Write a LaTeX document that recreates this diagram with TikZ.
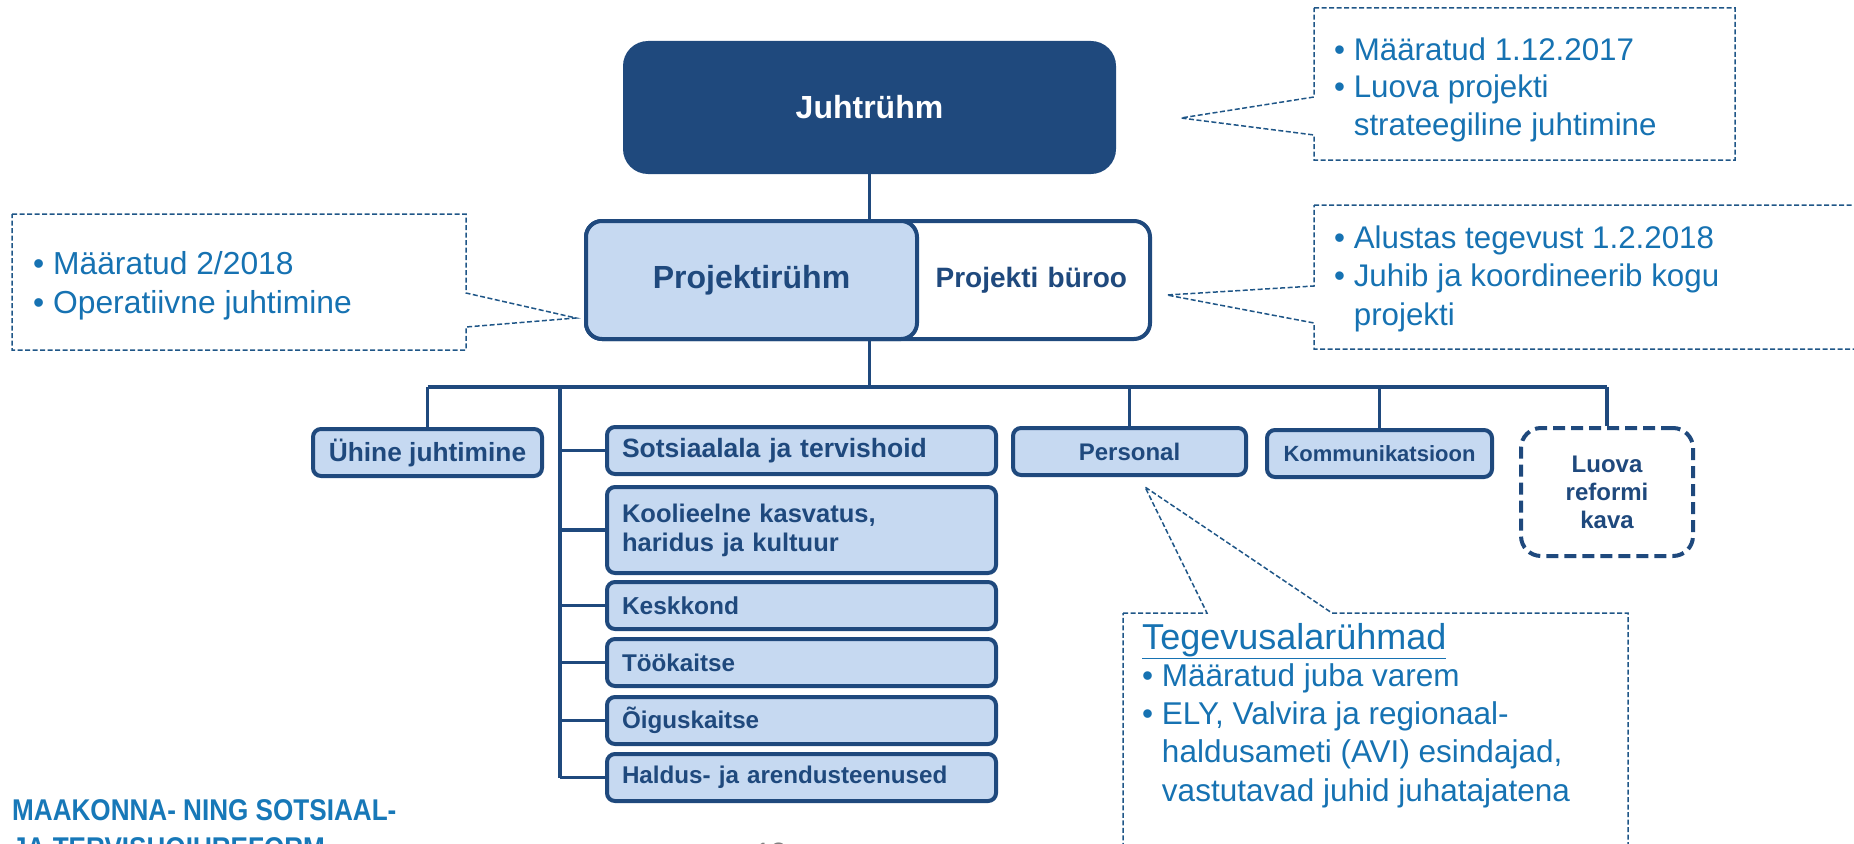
\documentclass[tikz,border=0pt]{standalone}
\usepackage{fontspec}
\setmainfont{Liberation Sans}
\newfontfamily\headfont[FakeStretch=0.87]{Liberation Sans}
\definecolor{navy}{RGB}{31,73,125}
\definecolor{paleblue}{RGB}{198,217,241}
\definecolor{notetext}{RGB}{22,114,178}
\definecolor{noteline}{RGB}{31,86,135}
\definecolor{headblue}{RGB}{23,120,184}
\newcommand{\boxfont}[1]{\fontsize{#1}{29}\selectfont\bfseries}
\tikzset{
  unit/.style={draw=navy, line width=4pt, fill=paleblue, rounded corners=8pt,
    text=navy, font=\boxfont{25}, inner sep=0pt, anchor=north west},
  branch/.style={unit, minimum width=389pt, minimum height=47pt,
    text width=359pt, align=left},
  note/.style={text=notetext, font=\fontsize{31}{38}\selectfont,
    anchor=base west, align=left, inner sep=0pt},
  noteframe/.style={draw=noteline, line width=1.5pt, dash pattern=on 5pt off 2.5pt},
  link/.style={draw=navy, line width=3.5pt},
}
\begin{document}
\begin{tikzpicture}[x=1pt,y=-1pt]
  \useasboundingbox (0,0) rectangle (1854,843);
  \clip (0,0) rectangle (1854,843);
  % leadership
  \node[fill=navy, rounded corners=25pt, minimum width=493pt, minimum height=133pt,
    text=white, font=\boxfont{32}] (juht) at (869.5,107.5) {Juhtrühm};
  \node[unit, fill=white, rounded corners=16pt, minimum width=564pt, minimum height=118pt,
    text width=518pt, align=right, font=\boxfont{28}] (buro) at (584,219) {Projekti büroo};
  \node[unit, rounded corners=16pt, minimum width=331pt, minimum height=118pt,
    font=\boxfont{32}] (projr) at (584,219) {Projektirühm};
  % working groups
  \node[unit, minimum width=229pt, minimum height=47pt, font=\boxfont{26.3}] (yhine) at (311,427) {Ühine juhtimine};
  \node[branch, font=\boxfont{26.5}] (sots) at (605,425) {Sotsiaalala ja tervishoid};
  \node[branch, minimum height=86pt, font=\boxfont{25.5}] (kool) at (605,485) {Koolieelne kasvatus,\\haridus ja kultuur};
  \node[branch, font=\boxfont{24.5}] (kesk) at (605,580) {Keskkond};
  \node[branch, font=\boxfont{24.2}] (tyo) at (605,637) {Töökaitse};
  \node[branch, font=\boxfont{24.2}] (oigus) at (605,695) {Õiguskaitse};
  \node[branch, font=\boxfont{24.2}] (haldus) at (605,752) {Haldus- ja arendusteenused};
  \node[unit, minimum width=233pt, minimum height=47pt, font=\boxfont{24}] (pers) at (1011,426) {Personal};
  \node[unit, minimum width=225pt, minimum height=47pt, font=\boxfont{22}] (komm) at (1265,428) {Kommunikatsioon};
  \node[unit, fill=white, dash pattern=on 12pt off 6pt, rounded corners=20pt,
    minimum width=172pt, minimum height=128pt, align=center,
    font=\fontsize{24}{28}\selectfont\bfseries] (luova) at (1519,426) {Luova\\reformi\\kava};
  % connectors
  \coordinate (busL) at (yhine.north |- 0,387);
  \coordinate (busR) at (luova.north |- 0,387);
  \coordinate (trunk) at (560,387);
  \begin{scope}[link]
    \draw (juht.south) -- (juht.south |- buro.north);
    \draw (juht.south |- buro.south) -- (juht.south |- busL);
    \draw (busL) -- (busR);
    \draw (yhine.north) -- (busL);
    \draw (trunk) -- (trunk |- haldus.west);
    \foreach \b in {sots,kool,kesk,tyo,oigus,haldus}
      \draw (trunk |- \b.west) -- (\b.west);
    \draw (pers.north) -- (pers.north |- busL);
    \draw (komm.north) -- (komm.north |- busL);
    \draw (luova.north) -- (busR);
  \end{scope}
  % notes
  \coordinate (juhttip) at (1181,118);
  \coordinate (burotip) at (1167,295);
  \coordinate (projtip) at (576,318);
  \coordinate (perstip) at (1145,487);
  \draw[noteframe] (1314,8) -- (1735,8) -- (1735,160) -- (1314,160) -- (1314,135)
    -- (juhttip) -- (1314,97) -- cycle;
  \draw[noteframe] (1314,205) -- (1870,205) -- (1870,349) -- (1314,349) -- (1314,323)
    -- (burotip) -- (1314,286) -- cycle;
  \draw[noteframe] (12,214) -- (466,214) -- (466,293) -- (projtip) -- (466,327)
    -- (466,350) -- (12,350) -- cycle;
  \draw[noteframe] (1123,613) -- (1207,613) -- (perstip) -- (1332,613) -- (1628,613)
    -- (1628,870) -- (1123,870) -- cycle;
  % multi-line notes sit on their last baseline
  \node[note, font=\fontsize{31.3}{37.5}\selectfont] (juhtnote) at (1334,135) {• Määratud 1.12.2017\\• Luova projekti\\\hphantom{• }strateegiline juhtimine};
  \node[note, font=\fontsize{31.3}{38.5}\selectfont] (buronote) at (1334,325) {• Alustas tegevust 1.2.2018\\• Juhib ja koordineerib kogu\\\hphantom{• }projekti};
  \node[note, font=\fontsize{31.8}{39}\selectfont] (projnote) at (33,313) {• Määratud 2/2018\\• Operatiivne juhtimine};
  \node[note, font=\fontsize{36}{40}\selectfont] (teg) at (1142,649) {\underline{Tegevusalarühmad}};
  \node[note, font=\fontsize{31.5}{38.3}\selectfont] (tegnote) at (1142,801) {• Määratud juba varem\\• ELY, Valvira ja regionaal-\\\hphantom{• }haldusameti (AVI) esindajad,\\\hphantom{• }vastutavad juhid juhatajatena};
  % footer
  \node[text=headblue, anchor=base west, align=left, inner sep=0pt,
    font=\headfont\fontsize{30}{38}\selectfont\bfseries] (reform) at (12,858) {MAAKONNA- NING SOTSIAAL-\\JA TERVISHOIUREFORM};
  \node[text=gray, anchor=base west, inner sep=0pt,
    font=\fontsize{28}{30}\selectfont] (pageno) at (755,862) {18};
\end{tikzpicture}
\end{document}
